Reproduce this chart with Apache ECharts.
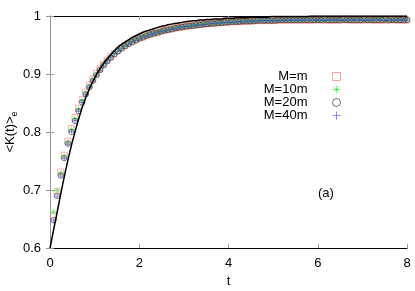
<!DOCTYPE html>
<html>
<head>
<meta charset="utf-8">
<script src="https://cdn.jsdelivr.net/npm/echarts@6/dist/echarts.min.js"></script>
<style>
html,body{margin:0;padding:0;background:#fff;}
#chart{width:415px;height:291px;}
</style>
</head>
<body>
<div id="chart"></div>
<script>
// t grid of the simulated points
var tVals = [
0.08,0.16,0.24,0.32,0.40,0.48,0.56,0.64,0.72,0.80,
0.88,0.96,1.04,1.12,1.20,1.28,1.36,1.44,1.52,1.60,
1.68,1.76,1.84,1.92,2.00,2.08,2.16,2.24,2.32,2.40,
2.48,2.56,2.64,2.72,2.80,2.88,2.96,3.04,3.12,3.20,
3.28,3.36,3.44,3.52,3.60,3.68,3.76,3.84,3.92,4.00,
4.08,4.16,4.24,4.32,4.40,4.48,4.56,4.64,4.72,4.80,
4.88,4.96,5.04,5.12,5.20,5.28,5.36,5.44,5.52,5.60,
5.68,5.76,5.84,5.92,6.00,6.08,6.16,6.24,6.32,6.40,
6.48,6.56,6.64,6.72,6.80,6.88,6.96,7.04,7.12,7.20,
7.28,7.36,7.44,7.52,7.60,7.68,7.76,7.84,7.92,8.00
];
// M=m (red squares)
var valsM1 = [
0.655,0.697,0.731,0.760,0.784,0.806,0.825,0.841,0.856,0.869,
0.881,0.891,0.901,0.909,0.917,0.924,0.930,0.935,0.940,0.945,
0.949,0.953,0.956,0.959,0.962,0.964,0.966,0.968,0.970,0.972,
0.974,0.975,0.977,0.978,0.979,0.980,0.981,0.982,0.983,0.984,
0.985,0.985,0.986,0.987,0.987,0.988,0.988,0.989,0.989,0.990,
0.990,0.990,0.991,0.991,0.991,0.991,0.992,0.992,0.992,0.992,
0.992,0.993,0.992,0.993,0.993,0.993,0.993,0.993,0.993,0.993,
0.993,0.993,0.993,0.993,0.994,0.993,0.993,0.993,0.993,0.993,
0.993,0.993,0.994,0.993,0.993,0.993,0.993,0.993,0.994,0.993,
0.993,0.993,0.993,0.993,0.993,0.994,0.993,0.993,0.993,0.993
];
// M=10m (green asterisks)
var valsM10 = [
0.662,0.699,0.729,0.758,0.782,0.804,0.823,0.839,0.854,0.867,
0.879,0.890,0.899,0.908,0.916,0.923,0.929,0.935,0.940,0.944,
0.948,0.952,0.956,0.959,0.961,0.964,0.966,0.968,0.970,0.972,
0.973,0.975,0.976,0.978,0.979,0.980,0.981,0.982,0.983,0.984,
0.984,0.985,0.986,0.986,0.987,0.988,0.988,0.988,0.989,0.989,
0.990,0.990,0.990,0.991,0.991,0.991,0.991,0.992,0.992,0.992,
0.992,0.992,0.992,0.993,0.993,0.993,0.993,0.993,0.993,0.993,
0.993,0.993,0.993,0.993,0.993,0.993,0.993,0.993,0.994,0.993,
0.993,0.993,0.993,0.993,0.993,0.994,0.993,0.993,0.993,0.993,
0.993,0.994,0.993,0.993,0.993,0.993,0.993,0.993,0.994,0.993
];
// M=20m (black circles)
var valsM20 = [
0.648,0.690,0.725,0.755,0.780,0.800,0.819,0.836,0.851,0.865,
0.877,0.888,0.898,0.907,0.915,0.922,0.928,0.934,0.939,0.944,
0.948,0.952,0.955,0.958,0.961,0.963,0.966,0.968,0.970,0.971,
0.973,0.975,0.976,0.977,0.979,0.980,0.981,0.982,0.983,0.983,
0.984,0.985,0.986,0.986,0.987,0.987,0.988,0.988,0.989,0.989,
0.990,0.990,0.990,0.991,0.991,0.991,0.991,0.992,0.992,0.992,
0.992,0.992,0.992,0.993,0.993,0.993,0.993,0.993,0.993,0.993,
0.993,0.993,0.993,0.993,0.993,0.993,0.994,0.993,0.993,0.993,
0.993,0.994,0.993,0.993,0.993,0.993,0.993,0.994,0.993,0.993,
0.993,0.993,0.993,0.994,0.993,0.993,0.993,0.993,0.993,0.993
];
// M=40m (blue plus)
var valsM40 = [
0.647,0.689,0.724,0.754,0.779,0.800,0.819,0.836,0.851,0.864,
0.877,0.888,0.898,0.906,0.914,0.921,0.928,0.934,0.939,0.943,
0.948,0.951,0.955,0.958,0.961,0.963,0.965,0.968,0.969,0.971,
0.973,0.974,0.976,0.977,0.978,0.980,0.981,0.982,0.982,0.983,
0.984,0.985,0.985,0.986,0.987,0.987,0.988,0.988,0.989,0.989,
0.989,0.990,0.990,0.990,0.991,0.991,0.991,0.991,0.992,0.992,
0.992,0.992,0.992,0.992,0.993,0.993,0.993,0.993,0.993,0.993,
0.993,0.993,0.993,0.993,0.993,0.993,0.993,0.993,0.993,0.994,
0.993,0.993,0.993,0.993,0.994,0.993,0.993,0.993,0.993,0.993,
0.994,0.993,0.993,0.993,0.993,0.993,0.994,0.993,0.993,0.993
];
// theory curve (solid black line)
var lineT = [0.00].concat(tVals);
var lineVals = [
0.600,
0.631,0.662,0.693,0.723,0.751,0.777,0.800,0.822,0.842,0.859,
0.874,0.887,0.899,0.909,0.918,0.926,0.933,0.940,0.946,0.951,
0.955,0.959,0.963,0.966,0.969,0.972,0.974,0.976,0.978,0.980,
0.982,0.983,0.985,0.986,0.987,0.988,0.989,0.990,0.991,0.992,
0.992,0.993,0.993,0.994,0.994,0.995,0.995,0.995,0.996,0.996,
0.996,0.997,0.997,0.997,0.997,0.998,0.998,0.998,0.998,0.998,
0.998,0.999,0.999,0.999,0.999,0.999,0.999,0.999,0.999,0.999,
0.999,0.999,1.000,1.000,1.000,1.000,1.000,1.000,1.000,1.000,
1.000,1.000,1.000,1.000,1.000,1.000,1.000,1.000,1.000,1.000,
1.000,1.000,1.000,1.000,1.000,1.000,1.000,1.000,1.000,1.000
];
var seriesNames = ['M=m','M=10m','M=20m','M=40m'];
var xTicks = [0,2,4,6,8];
var yTicks = [0.6,0.7,0.8,0.9,1];

function pairs(xs, ys){ return xs.map(function(x,i){ return [x, ys[i]]; }); }

var FONT = 'Liberation Sans';
var chart = echarts.init(document.getElementById('chart'), null, {renderer:'canvas'});
var asterisk = 'path://M0,5L10,5M5,0L5,10M1.5,1.5L8.5,8.5M8.5,1.5L1.5,8.5';
var plus = 'path://M0,5L10,5M5,0L5,10';

chart.setOption({
  animation:false,
  backgroundColor:'#fff',
  textStyle:{fontFamily:FONT},
  grid:{left:50,right:8,top:16,bottom:43,containLabel:false,outerBoundsMode:'none'},
  xAxis:[{
    type:'value',min:xTicks[0],max:xTicks[xTicks.length-1],interval:2,
    name:'t',nameLocation:'middle',nameGap:20,
    nameTextStyle:{fontSize:13,color:'#000',fontFamily:FONT},
    axisLine:{show:true,lineStyle:{color:'#000',width:1}},
    axisTick:{show:true,inside:true,length:4,lineStyle:{color:'#999'}},
    axisLabel:{fontSize:13,color:'#000',margin:9,fontFamily:FONT},
    splitLine:{show:false}
  },{
    type:'value',position:'top',min:xTicks[0],max:xTicks[xTicks.length-1],interval:2,
    axisLine:{show:true,lineStyle:{color:'#000',width:1}},
    axisTick:{show:true,inside:true,length:4,lineStyle:{color:'#999'}},
    axisLabel:{show:false},splitLine:{show:false}
  }],
  yAxis:[{
    type:'value',min:yTicks[0],max:yTicks[yTicks.length-1],interval:0.1,
    name:'{a|<K(t)>}{b|e}',nameLocation:'middle',nameGap:31,nameMoveOverlap:false,
    nameTextStyle:{color:'#000',fontFamily:FONT,
      rich:{a:{fontSize:13,color:'#000',fontFamily:FONT},
            b:{fontSize:9,color:'#000',fontFamily:FONT,padding:[8,0,0,0]}}},
    axisLine:{show:true,lineStyle:{color:'#999',width:1}},
    axisTick:{show:true,inside:true,length:4,lineStyle:{color:'#999'}},
    axisLabel:{fontSize:13,color:'#000',margin:9,fontFamily:FONT},
    splitLine:{show:false}
  },{
    type:'value',position:'right',min:yTicks[0],max:yTicks[yTicks.length-1],interval:0.1,
    axisLine:{show:true,lineStyle:{color:'#999',width:1}},
    axisTick:{show:true,inside:true,length:4,lineStyle:{color:'#999'}},
    axisLabel:{show:false},splitLine:{show:false}
  }],
  legend:{
    orient:'vertical',right:67,top:65,align:'right',
    itemWidth:8,itemHeight:8,itemGap:0,
    itemStyle:{borderWidth:0.7},
    data:seriesNames,
    textStyle:{fontSize:13,color:'#000',fontFamily:FONT,lineHeight:13,padding:[0,20,0,0]}
  },
  graphic:[{type:'text',left:318,top:187,style:{text:'(a)',fontSize:13,fill:'#000',fontFamily:FONT}}],
  series:[
    {name:seriesNames[0],type:'scatter',data:pairs(tVals,valsM1),symbol:'rect',symbolSize:6,
     itemStyle:{color:'none',borderColor:'#ff5555',borderWidth:0.6},z:2},
    {name:seriesNames[1],type:'scatter',data:pairs(tVals,valsM10),symbol:asterisk,symbolSize:6,
     itemStyle:{color:'none',borderColor:'#22dd22',borderWidth:0.6},z:3},
    {name:seriesNames[2],type:'scatter',data:pairs(tVals,valsM20),symbol:'circle',symbolSize:5.5,
     itemStyle:{color:'none',borderColor:'#000',borderWidth:0.6},z:4},
    {name:seriesNames[3],type:'scatter',data:pairs(tVals,valsM40),symbol:plus,symbolSize:5,
     itemStyle:{color:'none',borderColor:'#3333ff',borderWidth:0.6},z:5},
    {name:'theory',type:'line',data:pairs(lineT,lineVals),showSymbol:false,symbol:'none',
     lineStyle:{color:'#000',width:1.5},z:6,silent:true}
  ]
});
</script>
</body>
</html>
